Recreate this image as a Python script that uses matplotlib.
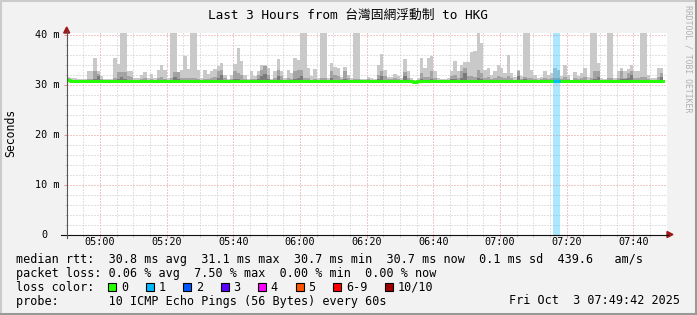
import matplotlib
matplotlib.use('Agg')
import matplotlib.pyplot as plt
from matplotlib.patches import Rectangle, Polygon
from matplotlib.lines import Line2D
import numpy as np

# --- data (one value per minute, starting 04:50) ---
smoke_top = [31.6, 31.5, 31.5, 31.3, 31.3, 31.3, 32.9, 32.9, 35.5, 32.9,
             31.9, 31.3, 31.3, 31.3, 35.5, 34.3, 44.0, 44.0, 32.9, 32.9,
             31.5, 31.5, 32.1, 32.7, 31.5, 32.3, 31.5, 33.1, 34.0, 33.1,
             31.5, 44.0, 44.0, 32.7, 33.1, 35.8, 33.3, 44.0, 44.0, 33.1,
             31.5, 33.1, 32.3, 32.8, 33.3, 33.8, 34.5, 32.1, 31.3, 32.1,
             34.3, 37.5, 34.9, 32.0, 31.3, 32.9, 31.8, 32.9, 34.1, 34.0,
             33.5, 31.3, 32.9, 35.3, 32.9, 31.5, 33.1, 32.5, 35.5, 35.1,
             44.0, 44.0, 33.5, 31.8, 33.3, 31.5, 44.0, 44.0, 31.5, 34.5,
             33.6, 33.5, 31.6, 33.6, 32.0, 31.5, 44.0, 44.0, 31.3, 31.3,
             31.6, 31.5, 31.3, 34.0, 36.3, 33.1, 31.6, 31.6, 32.3, 31.8,
             31.5, 35.3, 32.9, 31.5, 31.1, 31.5, 35.4, 33.5, 35.5, 35.8,
             32.8, 31.5, 31.3, 31.3, 31.5, 32.8, 34.8, 32.9, 34.0, 34.6,
             34.6, 36.7, 36.8, 44.0, 38.5, 33.1, 33.5, 32.1, 32.9, 34.0,
             33.5, 32.5, 36.1, 32.5, 31.6, 33.1, 31.8, 44.0, 44.0, 33.1,
             32.1, 31.5, 31.6, 32.9, 32.1, 32.5, 33.5, 33.1, 31.8, 34.1,
             32.1, 31.1, 32.7, 31.8, 32.5, 33.5, 31.6, 44.0, 44.0, 34.5,
             31.5, 31.3, 44.0, 44.0, 31.5, 32.8, 33.5, 32.8, 33.3, 34.1,
             32.9, 32.9, 44.0, 44.0, 32.1, 31.5, 31.5, 33.5, 33.5]

smoke_mid = [31.4, 31.1, 31.1, 31.0, 31.0, 31.0, 31.2, 31.2, 32.9, 32.3,
             31.3, 31.0, 31.0, 31.0, 31.4, 32.7, 32.7, 32.7, 31.8, 31.6,
             31.1, 31.1, 31.3, 31.4, 31.1, 31.3, 31.1, 31.4, 31.6, 31.3,
             31.1, 31.5, 32.7, 32.7, 31.5, 31.5, 31.4, 31.5, 31.5, 31.3,
             31.1, 31.3, 31.2, 31.4, 31.6, 32.9, 33.1, 31.5, 31.0, 31.2,
             32.9, 32.5, 32.1, 31.3, 31.0, 31.3, 31.2, 32.1, 33.1, 33.9,
             32.1, 31.0, 31.4, 33.1, 31.9, 31.1, 31.4, 31.3, 32.8, 33.1,
             33.1, 31.5, 31.4, 31.1, 31.3, 31.1, 31.4, 31.4, 31.1, 32.8,
             32.1, 31.8, 31.2, 32.8, 31.4, 31.1, 31.3, 31.3, 31.0, 31.0,
             31.2, 31.1, 31.0, 32.1, 32.9, 31.8, 31.2, 31.2, 31.4, 31.3,
             31.1, 32.7, 31.5, 31.1, 30.9, 31.1, 32.5, 31.6, 31.6, 32.8,
             31.5, 31.1, 31.0, 31.0, 31.1, 31.9, 32.1, 31.5, 32.8, 33.5,
             31.8, 31.8, 31.6, 33.0, 32.5, 31.5, 31.6, 31.3, 31.5, 31.8,
             31.6, 31.4, 31.8, 31.4, 31.1, 32.9, 31.3, 31.6, 31.4, 31.5,
             31.3, 31.1, 31.2, 31.5, 31.3, 31.4, 31.5, 31.4, 31.2, 31.6,
             31.3, 30.9, 31.4, 31.2, 31.4, 31.6, 31.1, 31.5, 32.8, 32.9,
             31.1, 31.0, 31.5, 31.5, 31.1, 31.5, 32.8, 31.5, 32.5, 32.9,
             31.5, 31.5, 31.6, 31.6, 31.3, 31.1, 31.1, 31.6, 32.5]

smoke_core = [31.2, 30.9, 30.9, 30.9, 30.9, 30.9, 30.9, 30.9, 31.3, 31.8,
              30.9, 30.9, 30.9, 30.9, 30.9, 31.3, 31.6, 31.2, 30.9, 30.9,
              30.9, 30.9, 30.9, 30.9, 30.9, 30.9, 30.9, 30.9, 30.9, 30.9,
              30.9, 30.9, 31.7, 31.2, 30.9, 30.9, 30.9, 30.9, 30.9, 30.9,
              30.9, 30.9, 30.9, 30.9, 30.9, 31.4, 32.0, 30.9, 30.9, 30.9,
              31.3, 31.2, 30.9, 30.9, 30.9, 30.9, 30.9, 31.2, 31.8, 32.3,
              31.2, 30.9, 30.9, 31.9, 30.9, 30.9, 30.9, 30.9, 31.3, 31.4,
              31.9, 30.9, 30.9, 30.9, 30.9, 30.9, 30.9, 30.9, 30.9, 31.4,
              31.1, 30.9, 30.9, 31.3, 30.9, 30.9, 30.9, 30.9, 30.9, 30.9,
              30.9, 30.9, 30.9, 31.2, 31.8, 30.9, 30.9, 30.9, 30.9, 30.9,
              30.9, 31.9, 30.9, 30.9, 30.9, 30.9, 31.3, 30.9, 30.9, 31.3,
              30.9, 30.9, 30.9, 30.9, 30.9, 31.2, 31.3, 30.9, 31.4, 32.4,
              30.9, 30.9, 30.9, 31.4, 31.2, 30.9, 30.9, 30.9, 30.9, 30.9,
              30.9, 30.9, 30.9, 30.9, 30.9, 31.8, 30.9, 31.2, 30.9, 30.9,
              30.9, 30.9, 30.9, 30.9, 30.9, 30.9, 30.9, 30.9, 30.9, 30.9,
              30.9, 30.9, 30.9, 30.9, 30.9, 30.9, 30.9, 31.0, 31.3, 31.7,
              30.9, 30.9, 30.9, 30.9, 30.9, 30.9, 31.3, 31.3, 31.4, 32.1,
              30.9, 30.9, 30.9, 30.9, 30.9, 30.9, 30.9, 30.9, 31.6]

median_rtt = [30.95, 30.9, 30.85, 30.85, 30.85, 30.8, 30.8, 30.85, 30.75, 30.75,
              30.8, 30.8, 30.85, 30.85, 30.8, 30.8, 30.75, 30.8, 30.8, 30.85,
              30.85, 30.85, 30.8, 30.8, 30.85, 30.8, 30.85, 30.75, 30.8, 30.8,
              30.85, 30.75, 30.8, 30.8, 30.85, 30.8, 30.8, 30.85, 30.8, 30.8,
              30.85, 30.8, 30.85, 30.85, 30.8, 30.8, 30.85, 30.8, 30.85, 30.75,
              30.8, 30.85, 30.8, 30.8, 30.75, 30.85, 30.8, 30.8, 30.85, 30.8,
              30.85, 30.85, 30.8, 30.8, 30.85, 30.75, 30.8, 30.85, 30.8, 30.85,
              30.85, 30.8, 30.8, 30.85, 30.85, 30.8, 30.8, 30.85, 30.85, 30.8,
              30.8, 30.85, 30.8, 30.8, 30.85, 30.8, 30.85, 30.85, 30.85, 30.8,
              30.8, 30.85, 30.85, 30.8, 30.8, 30.85, 30.8, 30.75, 30.8, 30.8,
              30.75, 30.8, 30.85, 30.75, 30.7, 30.8, 30.8, 30.85, 30.85, 30.85,
              30.8, 30.8, 30.85, 30.85, 30.8, 30.75, 30.75, 30.8, 30.85, 30.8,
              30.8, 30.85, 30.85, 30.8, 30.85, 30.8, 30.8, 30.85, 30.8, 30.85,
              30.85, 30.8, 30.85, 30.8, 30.8, 30.85, 30.85, 30.8, 30.8, 30.85,
              30.85, 30.8, 30.8, 30.85, 30.85, 30.85, 30.85, 30.85, 30.8, 30.85,
              30.8, 30.75, 30.8, 30.85, 30.8, 30.8, 30.85, 30.8, 30.8, 30.85,
              30.85, 30.8, 30.8, 30.85, 30.8, 30.85, 30.85, 30.8, 30.75, 30.8,
              30.85, 30.8, 30.8, 30.85, 30.8, 30.85, 30.85, 30.8, 30.8]

# pings lost out of 10, per minute
loss = [0] * 179
loss[146] = 1
loss[147] = 1

smoke_low = 30.55
x_ticks = [10, 30, 50, 70, 90, 110, 130, 150, 170]
x_labels = ['05:00', '05:20', '05:40', '06:00', '06:20', '06:40', '07:00', '07:20', '07:40']
y_ticks = [0, 10, 20, 30, 40]
y_labels = ['0', '10 m', '20 m', '30 m', '40 m']

loss_labels = ['0', '1', '2', '3', '4', '5', '6-9', '10/10']
loss_colors = ['#26ff00', '#00b8ff', '#0059ff', '#5e00ff', '#ff00ff', '#ff5500', '#ff0000', '#a10000']

title = 'Last 3 Hours from 台灣固網浮動制 to HKG'
row_rtt = 'median rtt:  30.8 ms avg  31.1 ms max  30.7 ms min  30.7 ms now  0.1 ms sd  439.6   am/s'
row_loss = 'packet loss: 0.06 % avg  7.50 % max  0.00 % min  0.00 % now'
row_probe = 'probe:       10 ICMP Echo Pings (56 Bytes) every 60s'
stamp = 'Fri Oct  3 07:49:42 2025'

# --- layout ---
W, H = 697, 315
MONO = ['DejaVu Sans Mono', 'Noto Sans CJK TC']
fig = plt.figure(figsize=(W / 100, H / 100), dpi=100, facecolor='#f2f2f2')


def fx(px):
    return px / W


def fy(py):
    return 1 - py / H


YTOP = 40.45
ax = fig.add_axes([fx(66.7), fy(234.5), 600 / W, (234.5 - 33.1) / H])
ax.set_facecolor('white')
ax.set_xlim(0, 180)
ax.set_ylim(0, YTOP)
for s in ax.spines.values():
    s.set_visible(False)

minutes = np.arange(len(smoke_top))
top = np.array(smoke_top)
mid = np.array(smoke_mid)
core = np.array(smoke_core)
med = np.array(median_rtt)

ax.bar(minutes, top - smoke_low, bottom=smoke_low, width=1, align='edge',
       color='#c9c9c9', linewidth=0, zorder=2)
ax.bar(minutes, mid - 30.6, bottom=30.6, width=1, align='edge',
       color='#a3a3a3', linewidth=0, zorder=3)
ax.bar(minutes, core - 30.65, bottom=30.65, width=1, align='edge',
       color='#7a7a7a', linewidth=0, zorder=3)

# loss bands
for i, l in enumerate(loss):
    if l > 0:
        ax.bar(i, YTOP, bottom=0, width=1, align='edge', color=loss_colors[l],
               alpha=0.33, linewidth=0, zorder=4)

# median line
xs = np.append(minutes, len(minutes))
ys = np.append(med, med[-1])
ax.step(xs, ys, where='post', color=loss_colors[0], lw=2.2, zorder=5)
for i, l in enumerate(loss):
    if l > 0:
        ax.hlines(med[i], i, i + 1, color=loss_colors[l], lw=2.2, zorder=6)

# grid
ax.set_xticks(x_ticks)
ax.set_xticks(np.arange(0, 181, 5), minor=True)
ax.set_yticks(y_ticks)
ax.set_yticks(np.arange(0, 41, 2), minor=True)
ax.grid(which='minor', color='#c4c4c4', linestyle=(0, (1, 2)), lw=0.72, zorder=1)
ax.grid(which='major', color='#e69090', linestyle=(0, (1, 2)), lw=0.72, zorder=1)
ax.set_axisbelow(True)
ax.tick_params(which='major', direction='out', length=2.2, width=0.72, color='#e69090',
               labelbottom=False, labelleft=False)
ax.tick_params(which='minor', direction='out', length=1.5, width=0.72, color='#c4c4c4')

for m, lab in zip(x_ticks, x_labels):
    ax.annotate(lab, xy=(m, 0), xycoords='data', xytext=(0, -7.3), textcoords='offset pixels',
                ha='center', va='center', family=MONO, size=7.3, annotation_clip=False)
for v, lab in zip(y_ticks, y_labels):
    off = -7 if lab != '0' else -19
    ax.annotate(lab, xy=(0, v), xycoords=('axes fraction', 'data'), xytext=(off, 0),
                textcoords='offset pixels', ha='right', va='center', family=MONO, size=7.3,
                annotation_clip=False)

# axes with arrows
fig.add_artist(Line2D([fx(61), fx(668)], [fy(234.5), fy(234.5)], color='#111111', lw=0.8))
fig.add_artist(Line2D([fx(66.7), fx(66.7)], [fy(238), fy(31)], color='#555555', lw=0.8))
fig.add_artist(Polygon([(fx(667), fy(231.5)), (fx(667), fy(237.5)), (fx(673), fy(234.5))],
                       closed=True, color='#a01818', transform=fig.transFigure))
fig.add_artist(Polygon([(fx(63.7), fy(33)), (fx(69.7), fy(33)), (fx(66.7), fy(27))],
                       closed=True, color='#a01818', transform=fig.transFigure))

# texts
fig.text(fx(348), fy(15), title, ha='center', va='center', family=MONO, size=9.2)
fig.text(fx(10.5), fy(133), 'Seconds', rotation=90, ha='center', va='center', family=MONO, size=8.3)
fig.text(fx(688), fy(59), 'RRDTOOL / TOBI OETIKER', rotation=270, ha='center', va='center',
         family=MONO, size=5.9, color='#b0b0b0')

FS = 8.5
CW = 7.1
fig.text(fx(16), fy(259.3), row_rtt, ha='left', va='center', family=MONO, size=FS)
fig.text(fx(16), fy(273.3), row_loss, ha='left', va='center', family=MONO, size=FS)
fig.text(fx(16), fy(287.3), 'loss color:', ha='left', va='center', family=MONO, size=FS)
fig.text(fx(16), fy(301), row_probe, ha='left', va='center', family=MONO, size=FS)
fig.text(fx(680), fy(301), stamp, ha='right', va='center', family=MONO, size=FS)

bx = 108.3
for lab, col in zip(loss_labels, loss_colors):
    fig.add_artist(Rectangle((fx(bx), fy(291.3)), 8 / W, 8 / H, facecolor=col,
                             edgecolor='black', lw=0.8, transform=fig.transFigure))
    fig.text(fx(bx + 12.5), fy(287.3), lab, ha='left', va='center', family=MONO, size=FS)
    bx = bx + 12.5 + len(lab) * CW + 17.9

# frame
fig.add_artist(Line2D([0, 1], [fy(1), fy(1)], color='#cbcbcb', lw=1.5))
fig.add_artist(Line2D([fx(1), fx(1)], [0, 1], color='#cbcbcb', lw=1.5))
fig.add_artist(Line2D([0, 1], [fy(313.5), fy(313.5)], color='#999999', lw=2.2))
fig.add_artist(Line2D([fx(695.7), fx(695.7)], [0, 1], color='#999999', lw=1.5))

fig.savefig('out.png', dpi=100, facecolor=fig.get_facecolor())
